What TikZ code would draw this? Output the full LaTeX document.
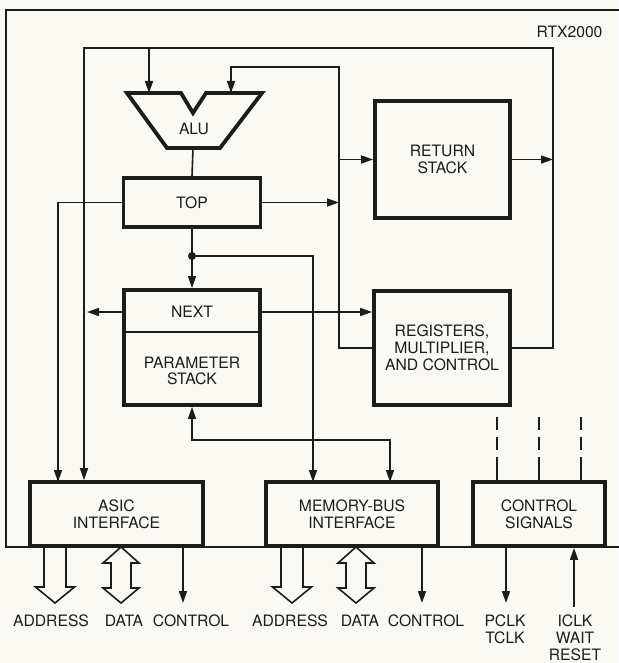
\documentclass[tikz,border=0pt]{standalone}
\usepackage{fontspec}
\setmainfont{TeX Gyre Heros}
\usetikzlibrary{arrows.meta,positioning,calc}
\definecolor{paper}{HTML}{FBF9F3}
\definecolor{ink}{HTML}{1C1C1C}

\begin{document}
\begin{tikzpicture}[x=1pt, y=-1pt,
    every node/.style={font=\fontsize{15.7}{16.8}\selectfont, text=ink, align=center},
    blk/.style={draw=ink, line width=3.8pt, inner sep=0pt},
    wire/.style={draw=ink, line width=1.6pt},
    arr/.style={wire, -{Triangle[length=12pt,width=8pt]}},
    darr/.style={wire, {Triangle[length=12pt,width=8pt]}-{Triangle[length=12pt,width=8pt]}},
    bus/.style={draw=ink, line width=1.6pt, line join=miter},
    busdown/.pic={\draw[bus] (-11,0) -- (-11,41) -- (-19.5,41) -- (0,57) -- (19.5,41) -- (11,41) -- (11,0);},
    busboth/.pic={\draw[bus] (0,0) -- (18,16) -- (10,16) -- (10,41) -- (18,41) -- (0,56)
                  -- (-18,41) -- (-10,41) -- (-10,16) -- (-18,16) -- cycle;}
  ]
  \fill[paper] (0,0) rectangle (618,663);
  \useasboundingbox (0,0) rectangle (618,663);
  % chip outline, it runs off the right edge
  \draw[ink, line width=1.7pt] (640,10) -- (6,10) -- (6,547) -- (640,547);
  \node[anchor=east] (chip) at (606,32) {RTX2000};

  % ALU
  \draw[ink, line width=3.8pt, line join=miter]
    (127,93) -- (181,93) -- (193,113) -- (206,93) -- (262,93) -- (220,148) -- (167,148) -- cycle;
  \node (alu) at (194,129) {ALU};
  \coordinate (aluA) at (149,93);
  \coordinate (aluB) at (231,93);
  \coordinate (aluO) at (193,148);

  \node[blk, minimum width=137pt, minimum height=49pt] (top) at (192,202.5) {TOP};
  \node[blk, minimum width=136pt, minimum height=115pt] (ps) at (192,347.5) {};
  \draw[ink, line width=1.8pt] (ps.west |- 0,332) -- (ps.east |- 0,332);
  \node (nx) at (192,312) {NEXT};
  \node (psl) at (192,371) {PARAMETER\\STACK};
  \node[blk, minimum width=135pt, minimum height=117pt] (rs) at (442.5,159.5) {RETURN\\STACK};
  \node[blk, minimum width=136pt, minimum height=114pt] (regs) at (442,348) {REGISTERS,\\MULTIPLIER,\\AND CONTROL};
  \node[blk, minimum width=173pt, minimum height=64pt] (asic) at (116.5,514) {ASIC\\INTERFACE};
  \node[blk, minimum width=172pt, minimum height=64pt] (mem) at (352,514) {MEMORY-BUS\\INTERFACE};
  \node[blk, minimum width=132pt, minimum height=64pt] (ctl) at (539,514) {CONTROL\\SIGNALS};

  % internal buses
  \coordinate (lpL) at (84,48);
  \coordinate (lpR) at (553,48);
  \coordinate (bus) at (339,67);
  \coordinate (asicA) at (58,482);
  \coordinate (memA) at (313,482);
  \coordinate (memB) at (390,482);
  \coordinate (dot) at (192,256);
  \draw[arr] (regs.east) -| (lpR) -- (lpL) -- (lpL |- asic.north);
  \draw[arr] (lpL -| aluA) -- (aluA);
  \draw[arr] (regs.west) -| (bus) -| (aluB);
  \draw[arr] (bus |- rs.west) -- (rs.west);
  \draw[arr] (rs.east) -- (rs.east -| lpR);
  \draw[arr] (top.east) -- (top.east -| bus);
  \draw[wire] (aluO) -- (top.north);
  \draw[arr] (top.west) -| (asicA);
  \draw[arr] (top.south) -- (ps.north);
  \draw[arr] (dot) -| (memA);
  \fill[ink] (dot) circle (4pt);
  \draw[arr, shorten >=3pt] (ps.west |- nx) -- (lpL |- nx);
  \draw[arr] (ps.east |- nx) -- (regs.west |- nx);
  \draw[darr] (ps.south) -- ++(0,33) -| (memB);

  % control lines from outside
  \foreach \x in {497,539,581} {
    \draw[wire, dash pattern=on 13pt off 7pt] (\x,417) -- (\x,457);
    \draw[wire] (\x,457) -- (ctl.north -| \x,0);
  }

  % pins
  \pic at (55,546) {busdown};
  \pic at (121,547) {busboth};
  \pic at (292,546) {busdown};
  \pic at (356,547) {busboth};
  \coordinate (c1) at (183,603);
  \coordinate (c2) at (422,603);
  \coordinate (pclk) at (506,603);
  \coordinate (iclk) at (574,607);
  \draw[arr] (c1 |- asic.south) -- (c1);
  \draw[arr] (c2 |- mem.south) -- (c2);
  \draw[arr] (pclk |- ctl.south) -- (pclk);
  \draw[arr] (iclk) -- (iclk |- ctl.south);

  \node (ad1) at (51,621) {ADDRESS};
  \node (da1) at (124,621) {DATA};
  \node (co1) at (191,621) {CONTROL};
  \node (ad2) at (290,621) {ADDRESS};
  \node (da2) at (360,621) {DATA};
  \node (co2) at (426,621) {CONTROL};
  \node[anchor=north, inner sep=0pt] (pc) at (505,614.5) {PCLK\\TCLK};
  \node[anchor=north, inner sep=0pt] (ic) at (575,614.5) {ICLK\\WAIT\\RESET};
\end{tikzpicture}
\end{document}
